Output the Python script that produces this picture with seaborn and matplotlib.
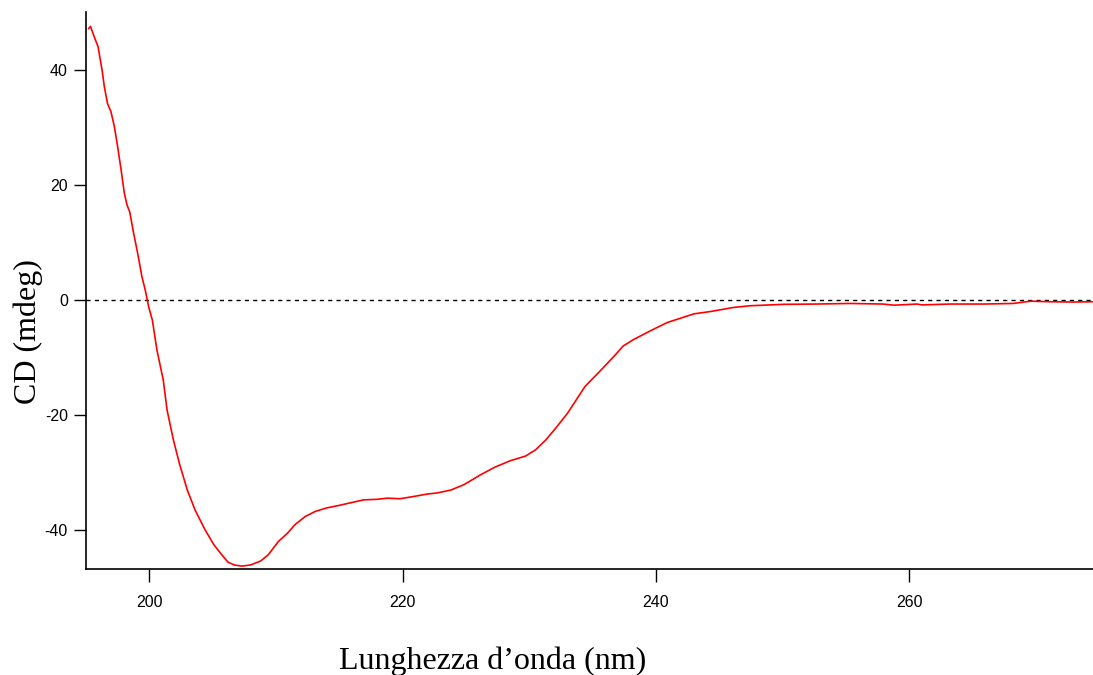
import matplotlib
matplotlib.use("Agg")
import matplotlib.pyplot as plt
import seaborn as sns
import pandas as pd

wavelength = [195.2, 195.35, 195.7, 195.95, 196.27, 196.45, 196.7, 196.97, 197.24, 197.5,
              197.77, 198.03, 198.24, 198.45, 198.76, 199.08, 199.42, 199.68, 199.95, 200.24,
              200.6, 201.1, 201.4, 201.9, 202.4, 203.0, 203.6, 204.4, 205.1, 205.6,
              206.2, 206.7, 207.3, 208.0, 208.8, 209.4, 210.2, 210.9, 211.5, 212.3,
              213.1, 214.0, 215.1, 216.1, 216.9, 218.0, 218.8, 219.8, 220.9, 221.9,
              222.7, 223.8, 224.8, 225.5, 226.1, 227.3, 228.5, 229.7, 230.5, 231.3,
              232.1, 233.0, 234.4, 235.6, 236.8, 237.4, 238.2, 239.6, 240.9, 243.0,
              244.3, 246.1, 247.4, 250.1, 252.7, 255.3, 257.9, 258.8, 260.6, 261.0,
              263.2, 265.9, 268.2, 269.6, 271.1, 272.9, 274.5]
cd_mdeg = [47.1, 47.5, 45.4, 44.0, 39.9, 37.0, 34.1, 32.7, 30.1, 26.6,
           22.6, 18.5, 16.5, 15.3, 11.6, 8.1, 4.0, 1.7, -1.2, -3.5,
           -8.7, -13.9, -19.1, -24.3, -28.6, -33.0, -36.4, -39.9, -42.5, -43.9,
           -45.5, -46.0, -46.2, -46.0, -45.3, -44.2, -41.9, -40.5, -39.0, -37.6,
           -36.7, -36.1, -35.6, -35.1, -34.7, -34.6, -34.4, -34.5, -34.1, -33.7,
           -33.5, -33.0, -32.1, -31.2, -30.4, -29.0, -27.9, -27.1, -26.0, -24.3,
           -22.2, -19.7, -15.0, -12.3, -9.5, -8.0, -6.9, -5.3, -3.9, -2.4,
           -2.0, -1.3, -1.0, -0.75, -0.7, -0.6, -0.7, -0.9, -0.7, -0.85,
           -0.7, -0.7, -0.6, -0.2, -0.3, -0.35, -0.3]
x_ticks = [200, 220, 240, 260]
y_ticks = [-40, -20, 0, 20, 40]
x_label = "Lunghezza d\u2019onda (nm)"
y_label = "CD (mdeg)"

sns.set_style("ticks")
plt.rcParams["font.family"] = ["Liberation Sans", "DejaVu Sans"]
plt.rcParams["axes.unicode_minus"] = False

df = pd.DataFrame({"wl": wavelength, "cd": cd_mdeg})

fig = plt.figure(figsize=(10.93, 6.75), dpi=100)
ax = fig.add_axes([86 / 1093, 1 - 569 / 675, 1 - 86 / 1093, (569 - 12) / 675])

ax.axhline(0, color="black", lw=1.0, ls=(0, (3, 3)), zorder=1)
sns.lineplot(data=df, x="wl", y="cd", ax=ax, color="red", lw=1.2,
             sort=False, estimator=None, zorder=2)

ax.set_xlim(195.0, 274.5)
ax.set_ylim(-46.7, 50.0)
ax.set_xticks(x_ticks)
ax.set_yticks(y_ticks)
ax.tick_params(axis="both", direction="out", length=9, width=1.0, labelsize=11.5,
               colors="black", labelcolor="black")
ax.tick_params(axis="x", pad=10)
ax.tick_params(axis="y", pad=4)
for side in ["top", "right"]:
    ax.spines[side].set_visible(False)
for side in ["left", "bottom"]:
    ax.spines[side].set_linewidth(1.2)
    ax.spines[side].set_color("black")

ax.set_xlabel(x_label, family=["Liberation Serif", "DejaVu Serif"], fontsize=23, color="black")
ax.set_ylabel(y_label, family=["Liberation Serif", "DejaVu Serif"], fontsize=23, color="black")
ax.xaxis.set_label_coords(0.404, -0.14)
ax.yaxis.set_label_coords(-0.043, 0.427)

fig.savefig("out.png", dpi=100)
